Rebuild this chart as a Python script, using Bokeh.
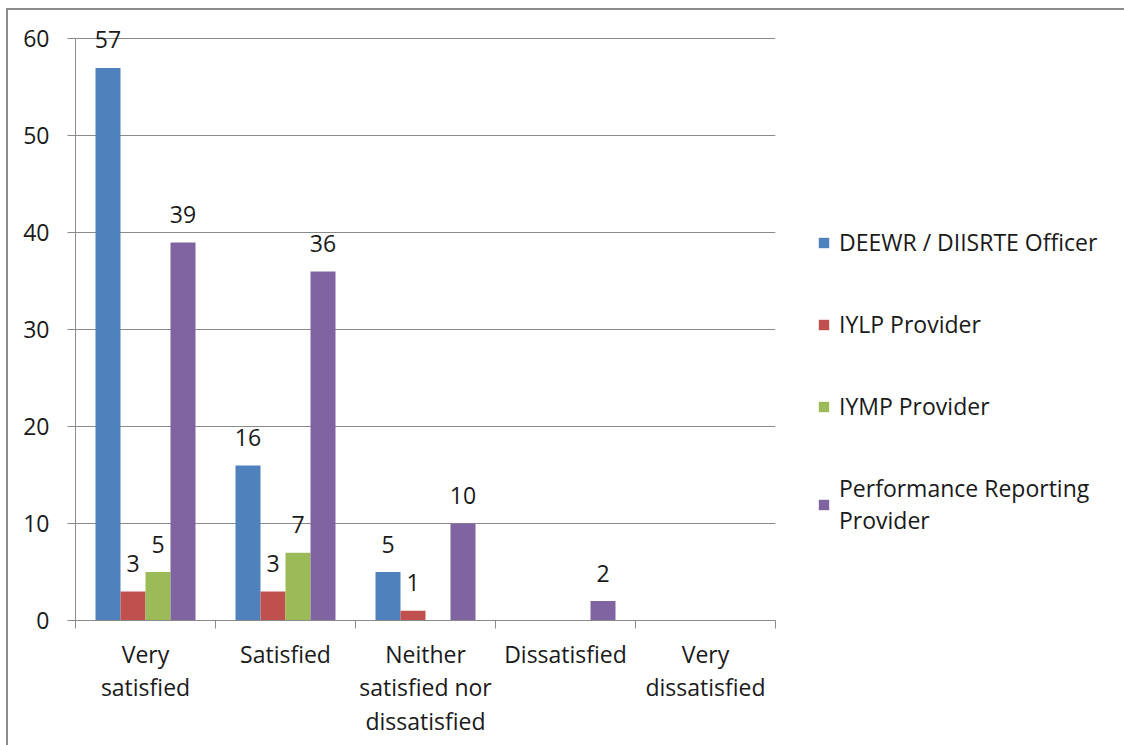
from bokeh.plotting import figure
from bokeh.models import (ColumnDataSource, Range1d, FixedTicker, Legend, LegendItem)
from bokeh.transform import dodge
from bokeh.core.properties import value
from bokeh.embed import file_html
from bokeh.resources import INLINE

# Satisfaction ratings by respondent group
categories = ["Very satisfied", "Satisfied", "Neither satisfied nor dissatisfied",
              "Dissatisfied", "Very dissatisfied"]
category_labels = ["Very\nsatisfied", "Satisfied", "Neither\nsatisfied nor\ndissatisfied",
                   "Dissatisfied", "Very\ndissatisfied"]
series_names = ["DEEWR / DIISRTE Officer", "IYLP Provider", "IYMP Provider",
                "Performance Reporting\nProvider"]
deewr = [57, 16, 5, 0, 0]
iylp = [3, 3, 1, 0, 0]
iymp = [5, 7, 0, 0, 0]
perf = [39, 36, 10, 2, 0]
y_ticks = [0, 10, 20, 30, 40, 50, 60]

colors = ["#4F81BD", "#C0504D", "#9BBB59", "#8064A2"]
FONT = "Open Sans"
FSIZE = "23px"
TEXT = "#1a1a1a"
GRID = "#8a8a8a"

centers = [i + 0.5 for i in range(len(categories))]
boundaries = list(range(len(categories) + 1))
bar_w = 25 / 140
y_top = y_ticks[-1]

# a little head room above the top tick so the tallest value label is not clipped
p = figure(
    output_backend="svg", toolbar_location=None,
    width=1116, height=735,
    frame_width=700, frame_height=601,
    min_border_left=67, min_border_right=349, min_border_top=9, min_border_bottom=125,
    x_range=Range1d(0, len(categories)), y_range=Range1d(0, 62),
    background_fill_color="white", border_fill_color="white",
)
p.styles = {"margin-left": "6px", "margin-top": "8px",
            "border-left": "2px solid #8c8c8c", "border-top": "2px solid #8c8c8c"}
p.outline_line_color = None
p.xgrid.visible = False
p.ygrid.grid_line_color = GRID
p.ygrid.ticker = FixedTicker(ticks=y_ticks)

# y axis
p.yaxis.ticker = FixedTicker(ticks=y_ticks)
p.yaxis.bounds = (0, y_top)
p.yaxis.axis_line_color = GRID
p.yaxis.major_tick_line_color = GRID
p.yaxis.major_tick_out = 8
p.yaxis.major_tick_in = 0
p.yaxis.minor_tick_line_color = None
p.yaxis.major_label_standoff = 18
p.yaxis.major_label_text_font = FONT
p.yaxis.major_label_text_font_size = FSIZE
p.yaxis.major_label_text_color = TEXT

# x axis: labels centred on groups, tick marks between groups
p.xaxis.ticker = FixedTicker(ticks=centers, minor_ticks=boundaries)
p.xaxis.major_label_overrides = {c: lab for c, lab in zip(centers, category_labels)}
p.xaxis.axis_line_color = GRID
p.xaxis.major_tick_line_color = None
p.xaxis.major_tick_out = 0
p.xaxis.major_tick_in = 0
p.xaxis.minor_tick_line_color = GRID
p.xaxis.minor_tick_out = 8
p.xaxis.minor_tick_in = 0
p.xaxis.major_label_standoff = 9
p.xaxis.major_label_text_font = FONT
p.xaxis.major_label_text_font_size = FSIZE
p.xaxis.major_label_text_color = TEXT
p.xaxis.major_label_text_line_height = 1.05

source = ColumnDataSource(dict(x=centers, deewr=deewr, iylp=iylp, iymp=iymp, perf=perf))
fields = ["deewr", "iylp", "iymp", "perf"]
offsets = [(-1.5 + k) * bar_w for k in range(4)]

items = []
for field, off, col, name in zip(fields, offsets, colors, series_names):
    r = p.vbar(x=dodge("x", off), top=field, width=bar_w, bottom=0,
               source=source, fill_color=col, line_color=None)
    items.append(LegendItem(label=name, renderers=[r]))
    vals = source.data[field]
    lab_src = ColumnDataSource(dict(
        x=[c + off for c, v in zip(centers, vals) if v > 0],
        y=[v for v in vals if v > 0],
        t=[str(v) for v in vals if v > 0],
    ))
    p.text(x="x", y="y", text="t", source=lab_src, text_align="center",
           text_baseline="alphabetic", y_offset=-28, text_font=value(FONT),
           text_font_size=FSIZE, text_color=TEXT)

legend = Legend(items=items, location=(42, 84), orientation="vertical",
                glyph_width=13, glyph_height=13, label_standoff=9, spacing=50,
                padding=0, margin=0, border_line_color=None, background_fill_alpha=0,
                label_text_font=FONT, label_text_font_size=FSIZE,
                label_text_color=TEXT, label_text_line_height=1.05)
p.add_layout(legend, "right")

open("out.html", "w").write(file_html(p, INLINE))
